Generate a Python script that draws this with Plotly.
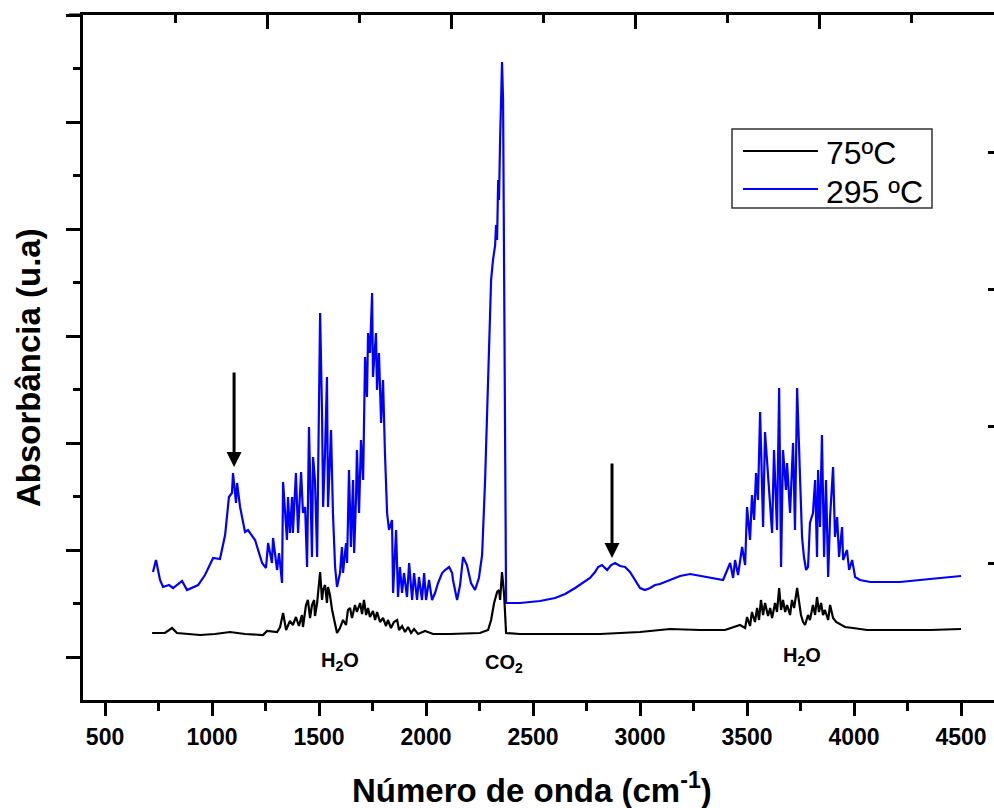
import plotly.graph_objects as go

# ---------------- data ----------------
wn_295 = [724, 738, 757, 771, 799, 818, 860, 883, 935, 967, 1005, 1037, 1061, 1079, 1093, 1098, 1112, 1117,
          1131, 1154, 1168, 1201, 1234, 1252, 1262, 1280, 1285, 1304, 1313, 1327,
          1332, 1350, 1355, 1364, 1374, 1378, 1392, 1402, 1416, 1425, 1435, 1444, 1453, 1467, 1472, 1481,
          1491, 1495, 1505, 1514, 1519, 1528, 1537, 1542, 1556, 1565, 1575, 1584, 1598, 1607, 1612, 1626,
          1631, 1640, 1649, 1659, 1664, 1673, 1677, 1687, 1696, 1706, 1715, 1724, 1729, 1738, 1748, 1752,
          1766, 1771, 1780, 1790, 1799, 1808, 1818, 1827, 1841, 1846, 1860, 1869, 1878, 1888, 1897, 1911,
          1921, 1935, 1944, 1958, 1967, 1981, 1991, 2000, 2014, 2028, 2042, 2056, 2075, 2089, 2108, 2122,
          2126, 2145, 2159, 2173, 2191, 2210, 2229, 2247, 2262, 2276, 2290, 2304, 2313, 2323, 2327, 2332,
          2337, 2341, 2346, 2351, 2355, 2360, 2365, 2369, 2374, 2439, 2533, 2603, 2650, 2697, 2734, 2766,
          2790, 2804, 2822, 2846, 2865, 2883, 2907, 2930, 2953, 2977, 3000, 3023, 3047, 3070, 3093, 3140,
          3187, 3234, 3280, 3327, 3388, 3421, 3435, 3444, 3458, 3477, 3491, 3500, 3514, 3523, 3533, 3542,
          3551, 3561, 3575, 3584, 3598, 3617, 3626, 3640, 3650, 3659, 3668, 3682, 3687, 3701, 3715, 3724,
          3734, 3743, 3748, 3757, 3766, 3776, 3785, 3794, 3808, 3818, 3827, 3832, 3841, 3850, 3860, 3869,
          3879, 3888, 3902, 3911, 3921, 3930, 3944, 3949, 3967, 3977, 3991, 4005, 4028, 4075, 4122, 4215,
          4355, 4500]
abs_295 = [1.28, 1.40, 1.20, 1.13, 1.15, 1.12, 1.19, 1.10, 1.15, 1.25, 1.42, 1.41, 1.65, 2.03, 2.07, 2.27, 1.97, 2.17,
           1.93, 1.68, 1.70, 1.60, 1.37, 1.32, 1.57, 1.37, 1.62, 1.30, 1.47, 1.17,
           2.18, 1.60, 2.03, 1.67, 2.03, 1.67, 2.27, 1.67, 2.28, 1.87, 1.93, 1.33, 2.73, 1.43, 2.43, 2.20,
           1.43, 2.03, 3.87, 2.87, 1.93, 2.47, 3.23, 1.93, 2.70, 1.87, 1.33, 1.13, 1.27, 1.53, 1.27, 1.57,
           1.37, 2.30, 1.53, 2.20, 1.47, 2.03, 2.50, 1.87, 2.60, 2.20, 3.43, 3.03, 3.67, 3.47, 4.07, 3.23,
           3.67, 3.10, 3.47, 2.77, 3.20, 2.47, 1.87, 1.70, 1.80, 1.07, 1.70, 1.03, 1.33, 1.07, 1.27, 1.03,
           1.37, 1.00, 1.27, 1.00, 1.23, 1.00, 1.27, 1.00, 1.20, 1.00, 1.07, 1.17, 1.27, 1.30, 1.33, 1.27,
           1.20, 1.00, 1.15, 1.43, 1.35, 1.17, 1.10, 1.22, 1.45, 2.20, 3.20, 4.20, 4.40, 4.55, 4.75, 4.60,
           5.20, 5.00, 5.60, 6.05, 6.38, 6.00, 4.00, 2.00, 0.97, 0.97, 0.99, 1.02, 1.06, 1.12, 1.17, 1.22,
           1.28, 1.33, 1.35, 1.30, 1.35, 1.37, 1.34, 1.33, 1.28, 1.20, 1.12, 1.10, 1.12, 1.15, 1.16, 1.20,
           1.24, 1.26, 1.24, 1.22, 1.20, 1.37, 1.22, 1.40, 1.25, 1.53, 1.35, 1.93, 1.60, 2.05, 1.80, 2.27,
           2.00, 2.88, 1.73, 2.68, 2.20, 1.67, 2.50, 1.70, 3.12, 1.33, 2.50, 2.10, 2.37, 1.87, 2.57, 1.70,
           3.12, 2.63, 2.20, 1.63, 1.43, 1.30, 1.33, 1.77, 1.87, 2.20, 1.43, 2.30, 1.73, 2.65, 1.43, 2.20,
           1.23, 1.83, 2.33, 1.63, 1.83, 1.43, 1.73, 1.40, 1.50, 1.30, 1.40, 1.23, 1.20, 1.18, 1.18, 1.18,
           1.21, 1.24]

wn_75 = [720, 780, 813, 836, 944, 1014, 1084, 1154, 1238, 1257, 1304, 1318, 1332, 1346, 1364, 1378, 1392,
         1406, 1420, 1425, 1439, 1448, 1458, 1467, 1477, 1481, 1491, 1505, 1514, 1519, 1528, 1537, 1542,
         1551, 1561, 1575, 1584, 1598, 1612, 1626, 1635, 1645, 1654, 1668, 1677, 1692, 1701, 1710, 1720,
         1729, 1738, 1752, 1762, 1771, 1785, 1799, 1813, 1822, 1836, 1850, 1865, 1874, 1888, 1902, 1916,
         1930, 1944, 1963, 1995, 2033, 2112, 2252, 2290, 2304, 2318, 2332, 2341, 2346, 2355, 2365, 2374,
         2439, 2626, 2813, 3000, 3140, 3280, 3397, 3467, 3491, 3500, 3514, 3523, 3537, 3547, 3556, 3565,
         3575, 3584, 3598, 3608, 3617, 3631, 3640, 3650, 3659, 3668, 3678, 3687, 3701, 3710, 3720, 3734,
         3743, 3752, 3762, 3771, 3785, 3794, 3808, 3818, 3827, 3836, 3846, 3855, 3864, 3879, 3888, 3902,
         3916, 3935, 3958, 3995, 4061, 4215, 4355, 4500]
abs_75 = [0.67, 0.67, 0.72, 0.67, 0.65, 0.66, 0.68, 0.66, 0.65, 0.69, 0.68, 0.73, 0.87, 0.70, 0.79, 0.75, 0.83,
          0.74, 0.85, 0.73, 0.95, 1.00, 0.82, 0.95, 1.00, 0.84, 0.97, 1.28, 1.00, 1.10, 1.15, 0.97, 1.13,
          1.05, 0.90, 0.75, 0.67, 0.72, 0.80, 0.75, 0.90, 0.92, 0.82, 0.95, 0.88, 0.97, 0.86, 1.00, 0.85,
          0.92, 0.83, 0.89, 0.80, 0.88, 0.78, 0.82, 0.74, 0.80, 0.72, 0.78, 0.80, 0.70, 0.74, 0.68, 0.73,
          0.67, 0.71, 0.66, 0.69, 0.66, 0.66, 0.67, 0.70, 0.80, 0.97, 1.08, 1.10, 1.00, 1.28, 1.05, 0.67,
          0.66, 0.66, 0.66, 0.68, 0.71, 0.70, 0.70, 0.75, 0.72, 0.83, 0.74, 0.88, 0.78, 0.92, 0.80, 1.00,
          0.85, 0.97, 0.84, 0.92, 0.82, 0.97, 0.88, 1.12, 0.90, 1.00, 0.88, 0.95, 0.85, 1.00, 0.92, 1.12,
          1.00, 0.85, 0.78, 0.75, 0.85, 0.80, 0.95, 0.85, 1.03, 0.88, 0.97, 0.85, 0.90, 0.80, 0.95, 0.82,
          0.78, 0.76, 0.73, 0.72, 0.70, 0.70, 0.70, 0.71]

series_names = ["75ºC", "295 ºC"]
series_colors = ["#000000", "#0000ff"]
x_ticks = [500, 1000, 1500, 2000, 2500, 3000, 3500, 4000, 4500]
band_labels = ["H<sub>2</sub>O", "CO<sub>2</sub>", "H<sub>2</sub>O"]
band_x = [1598, 2362, 3757]
band_y = [0.385, 0.37, 0.44]
arrow_x = [1103, 2869]
arrow_y = [2.33, 1.42]

# ---------------- figure ----------------
FONT = "Liberation Sans, Arial, sans-serif"
W, H = 994, 808
ML, MR, MT, MB = 83, 0, 15, 108
PW, PH = W - ML - MR, H - MT - MB


def px_x(p):   # pixel column -> paper x
    return (p - ML) / PW


def px_y(p):   # pixel row -> paper y
    return (H - MB - p) / PH


fig = go.Figure()
for xs, ys, nm, col in zip([wn_75, wn_295], [abs_75, abs_295], series_names, series_colors):
    fig.add_trace(go.Scatter(x=xs, y=ys, mode="lines", name=nm, showlegend=False,
                             line=dict(color=col, width=2.2)))
# carriers for the secondary (top / right) tick axes
fig.add_trace(go.Scatter(x=[None], y=[None], xaxis="x2", yaxis="y", showlegend=False, hoverinfo="skip"))
fig.add_trace(go.Scatter(x=[None], y=[None], xaxis="x", yaxis="y2", showlegend=False, hoverinfo="skip"))

fig.update_layout(
    width=W, height=H,
    margin=dict(l=ML, r=MR, t=MT, b=MB, pad=0),
    paper_bgcolor="white", plot_bgcolor="white",
    font=dict(family=FONT, color="black"),
    showlegend=False,
    xaxis=dict(range=[397, 4654], tickvals=x_ticks, ticktext=[str(v) for v in x_ticks],
               ticks="outside", ticklen=13, tickwidth=2.5, tickcolor="black",
               minor=dict(dtick=250, tick0=0, ticks="outside", ticklen=8, tickwidth=2.5, tickcolor="black"),
               showline=True, linewidth=3, linecolor="black", showgrid=False, zeroline=False,
               tickfont=dict(family=FONT, size=23, weight="bold"), ticklabelstandoff=1),
    yaxis=dict(range=[0, 6.85], tick0=0.43, dtick=1.07, ticks="outside", ticklen=14, tickwidth=2.5,
               tickcolor="black",
               minor=dict(tick0=0.43, dtick=0.535, ticks="outside", ticklen=7, tickwidth=2.5, tickcolor="black"),
               showticklabels=False, showline=True, linewidth=3, linecolor="black",
               showgrid=False, zeroline=False),
    xaxis2=dict(overlaying="x", side="top", anchor="y", range=[0, PW / 92], tick0=0, dtick=2,
                ticks="inside", ticklen=14, tickwidth=2.5, tickcolor="black",
                minor=dict(tick0=0, dtick=1, ticks="inside", ticklen=8, tickwidth=2.5, tickcolor="black"),
                showticklabels=False, showline=True, linewidth=3, linecolor="black",
                showgrid=False, zeroline=False),
    yaxis2=dict(overlaying="y", side="right", anchor="x", range=[0, 5], dtick=1,
                ticks="inside", ticklen=6, tickwidth=2.5, tickcolor="black",
                showticklabels=False, showline=False, showgrid=False, zeroline=False),
)

# extension of the top frame line to the left
fig.add_shape(type="line", xref="paper", yref="paper", x0=-14 / PW, x1=0, y0=1, y1=1,
              line=dict(color="black", width=3))

# legend box (drawn to match the original's compact layout)
fig.add_shape(type="rect", xref="paper", yref="paper", x0=px_x(732), x1=px_x(932),
              y0=px_y(208), y1=px_y(129), line=dict(color="#333333", width=1.5), fillcolor="white")
for nm, col, row_line, row_text in zip(series_names, series_colors, [151, 189], [153, 192]):
    fig.add_shape(type="line", xref="paper", yref="paper", x0=px_x(743), x1=px_x(818),
                  y0=px_y(row_line), y1=px_y(row_line), line=dict(color=col, width=2))
    fig.add_annotation(xref="paper", yref="paper", x=px_x(824), y=px_y(row_text), text=nm,
                       showarrow=False, xanchor="left", yanchor="middle",
                       font=dict(family=FONT, size=32, color="black"))

# axis titles
fig.add_annotation(xref="paper", yref="paper", x=px_x(532), y=px_y(788),
                   text="Número de onda (cm<sup>-1</sup>)", showarrow=False,
                   xanchor="center", yanchor="middle",
                   font=dict(family=FONT, size=33, weight="bold"))
fig.add_annotation(xref="paper", yref="paper", x=px_x(28), y=px_y(368),
                   text="Absorbância (u.a)", showarrow=False, textangle=-90,
                   xanchor="center", yanchor="middle",
                   font=dict(family=FONT, size=33, weight="bold"))

# band labels
for t, bx, by in zip(band_labels, band_x, band_y):
    fig.add_annotation(x=bx, y=by, text=t, showarrow=False, xanchor="center", yanchor="middle",
                       font=dict(family=FONT, size=20, weight="bold"))

# arrows
for ax_, ay_ in zip(arrow_x, arrow_y):
    fig.add_annotation(x=ax_, y=ay_, text="", showarrow=True, ax=0, ay=-96,
                       arrowhead=2, arrowsize=1, arrowwidth=3, arrowcolor="black", standoff=0)

fig.write_html("out.html")
